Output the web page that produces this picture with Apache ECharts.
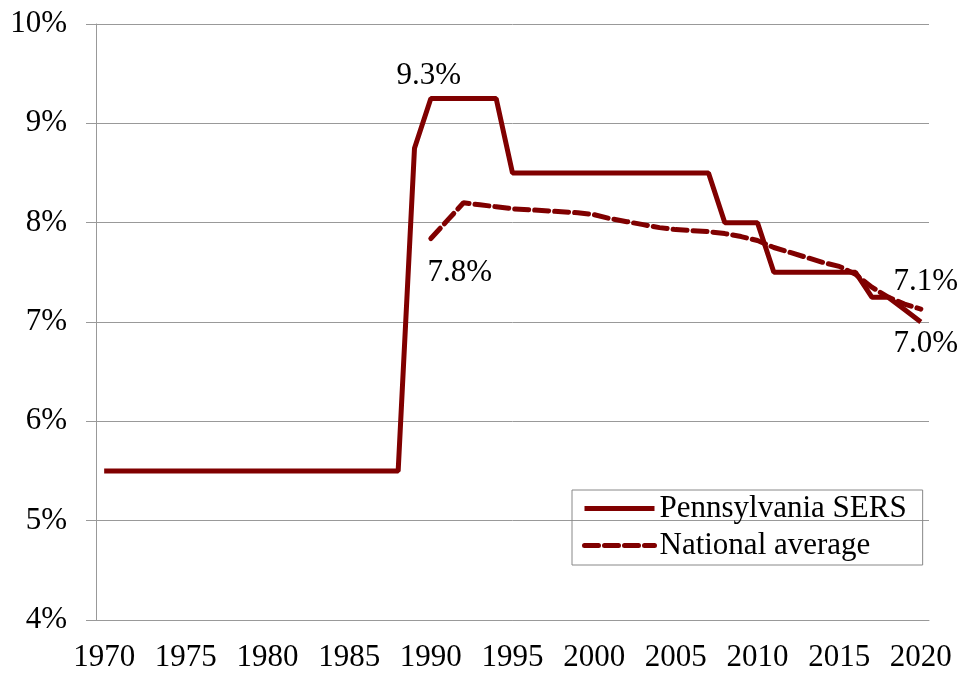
<!DOCTYPE html>
<html>
<head>
<meta charset="utf-8">
<script src="https://cdn.jsdelivr.net/npm/echarts@6/dist/echarts.min.js"></script>
<style>
  html, body { margin: 0; padding: 0; background: #fff; }
  #chart { width: 958px; height: 673px; }
</style>
</head>
<body>
<div id="chart"></div>
<script>
// years 1970..2020
var years = [];
for (var y = 1970; y <= 2020; y++) years.push(String(y));

// Pennsylvania SERS assumed return (%)
var sersRate = [
  5.5, 5.5, 5.5, 5.5, 5.5, 5.5, 5.5, 5.5, 5.5, 5.5,      // 1970-1979
  5.5, 5.5, 5.5, 5.5, 5.5, 5.5, 5.5, 5.5, 5.5, 8.75,     // 1980-1989
  9.25, 9.25, 9.25, 9.25, 9.25, 8.5, 8.5, 8.5, 8.5, 8.5, // 1990-1999
  8.5, 8.5, 8.5, 8.5, 8.5, 8.5, 8.5, 8.5, 8.0, 8.0,      // 2000-2009
  8.0, 7.5, 7.5, 7.5, 7.5, 7.5, 7.5, 7.25, 7.25, 7.125,  // 2010-2019
  7.0                                                    // 2020
];

// national average assumed return (%)
var nationalAvg = [
  null, null, null, null, null, null, null, null, null, null,
  null, null, null, null, null, null, null, null, null, null,
  7.84, 8.02, 8.2, 8.18, 8.16, 8.14, 8.13, 8.12, 8.11, 8.1,
  8.08, 8.04, 8.01, 7.98, 7.95, 7.93, 7.92, 7.91, 7.89, 7.86,
  7.82, 7.75, 7.7, 7.65, 7.6, 7.56, 7.48, 7.35, 7.25, 7.18,
  7.13
];

var seriesNames = ["Pennsylvania SERS", "National average"];
var maroon = "#800000";
var font = "'Liberation Serif', 'Times New Roman', serif";

// value labels: year -> [position, distance, offset]
var sersLabels = { "1990": ["top", 7, [-2, 0]], "2020": ["bottom", 6, [5, 0]] };
var natLabels = { "1990": ["bottom", 18, [29, 0]], "2020": ["top", 11, [5, 0]] };

function labelPoints(values, labels) {
  var pts = [];
  Object.keys(labels).forEach(function (yr) {
    var i = years.indexOf(yr);
    var l = labels[yr];
    pts.push({
      coord: [yr, values[i]],
      value: values[i],
      label: { position: l[0], distance: l[1], offset: l[2] }
    });
  });
  return {
    symbol: "circle",
    symbolSize: 1,
    silent: true,
    itemStyle: { color: "rgba(0,0,0,0)" },
    label: {
      show: true,
      formatter: function (p) { return p.value.toFixed(1) + "%"; },
      color: "#000",
      fontFamily: font,
      fontSize: 31
    },
    data: pts
  };
}

var myChart = echarts.init(document.getElementById("chart"));
myChart.setOption({
  animation: false,
  textStyle: { fontFamily: font },
  grid: { left: 96, right: 29, top: 24, bottom: 53, containLabel: false },
  legend: {
    data: seriesNames,
    orient: "vertical",
    left: 572,
    top: 490,
    itemWidth: 70,
    itemHeight: 14,
    itemGap: 6,
    padding: [3, 16, 4, 10],
    borderColor: "#888",
    borderWidth: 1,
    itemStyle: { opacity: 0 },
    lineStyle: { width: 5 },
    textStyle: { fontFamily: font, fontSize: 31, color: "#000" }
  },
  xAxis: {
    type: "category",
    data: years,
    boundaryGap: true,
    axisLine: { lineStyle: { color: "#999" } },
    axisTick: { interval: 4, length: 9, lineStyle: { color: "#999" } },
    axisLabel: { interval: 4, margin: 22, color: "#000", fontFamily: font, fontSize: 31 },
    splitLine: { show: false }
  },
  yAxis: {
    type: "value",
    min: 4,
    max: 10,
    interval: 1,
    axisLine: { show: true, lineStyle: { color: "#999" } },
    axisTick: { show: true, length: 10, lineStyle: { color: "#999" } },
    axisLabel: { formatter: "{value}%", margin: 29, color: "#000", fontFamily: font, fontSize: 31 },
    splitLine: { lineStyle: { color: "#999" } }
  },
  series: [
    {
      name: seriesNames[0],
      type: "line",
      symbol: "none",
      color: maroon,
      lineStyle: { color: maroon, width: 5 },
      data: sersRate,
      markPoint: labelPoints(sersRate, sersLabels)
    },
    {
      name: seriesNames[1],
      type: "line",
      symbol: "none",
      color: maroon,
      lineStyle: { color: maroon, width: 5, type: [14, 6], cap: "round" },
      data: nationalAvg,
      markPoint: labelPoints(nationalAvg, natLabels)
    }
  ]
});
</script>
</body>
</html>
